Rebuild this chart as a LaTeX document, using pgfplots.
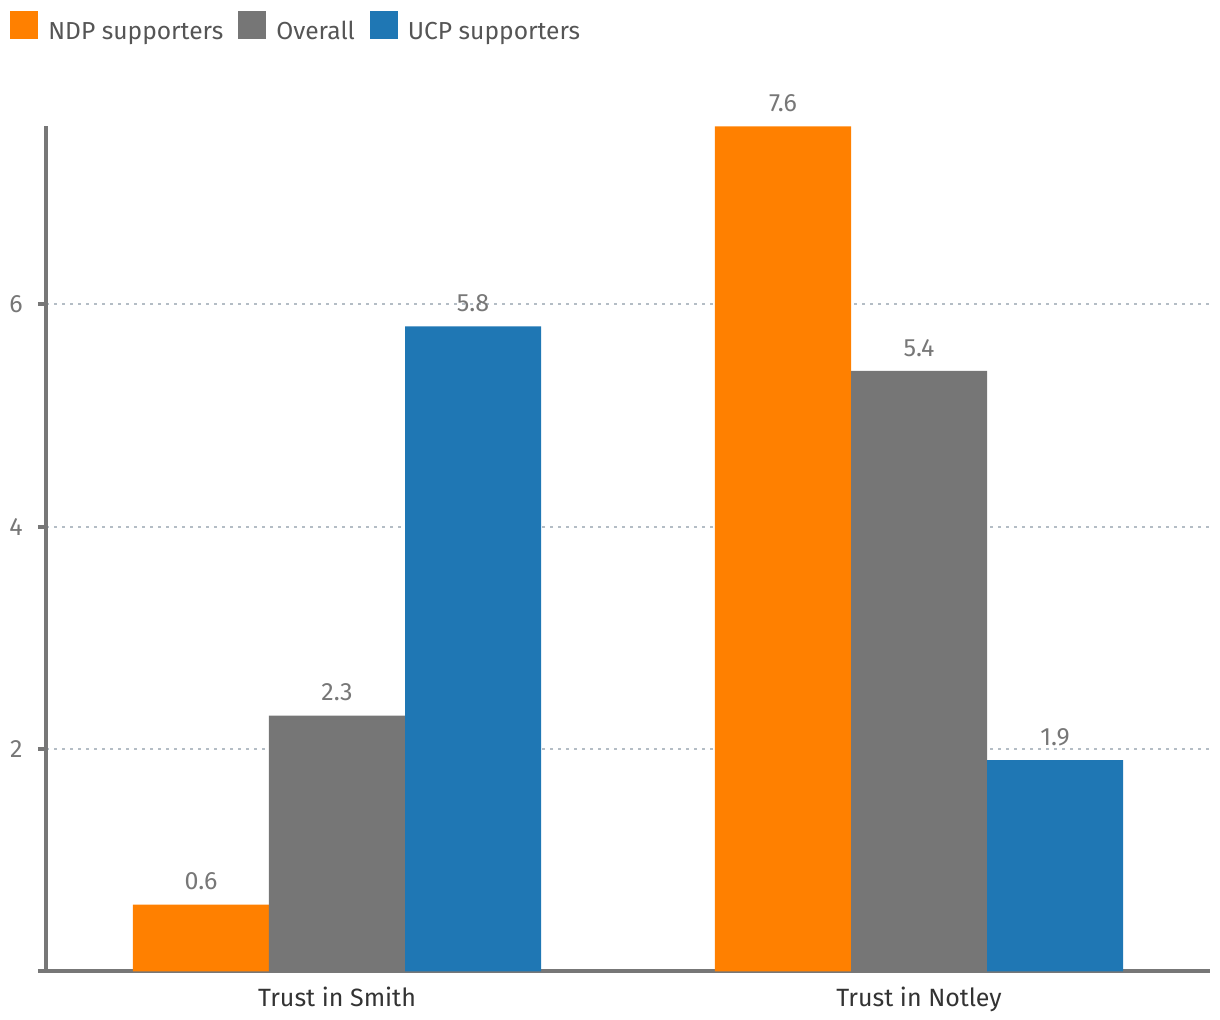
\documentclass[border=0pt]{standalone}
\usepackage{fontspec}
\setmainfont{Fira Sans}
\usepackage{pgfplots}
\pgfplotsset{compat=1.18}
\definecolor{ndp}{HTML}{FF8000}
\definecolor{overall}{HTML}{767676}
\definecolor{ucp}{HTML}{1F77B4}
\definecolor{spine}{HTML}{777777}
\definecolor{gridc}{HTML}{B4BDC5}
\definecolor{lbl}{HTML}{777777}
\definecolor{cat}{HTML}{333333}
\definecolor{leg}{HTML}{555555}
\begin{document}
\fontsize{12.5}{15}\selectfont
\begin{tikzpicture}[font=\fontsize{12.5}{15}\selectfont]
\begin{axis}[
  at={(23pt,24.35pt)}, anchor=south west,
  scale only axis, width=582pt, height=422.5pt,
  ybar=0pt, bar width=0.2337,
  xmin=-0.5, xmax=1.5, ymin=0, ymax=7.6,
  xtick={0,1}, xticklabels={Trust in Smith, Trust in Notley},
  ytick={0,2,4,6}, yticklabels={,2,4,6},
  axis x line*=bottom, axis y line*=left,
  axis line style={draw=spine, line width=2pt, -},
  tick align=outside, major tick length=4pt,
  xtick style={draw=none},
  ytick style={draw=spine, line width=2pt},
  ymajorgrids,
  major grid style={draw=gridc, line width=1pt, dash pattern=on 1.6pt off 2.4pt},
  /pgf/number format/assume math mode=true,
  yticklabel style={text=lbl, anchor=east, inner sep=0pt, xshift=-7.5pt},
  xticklabel style={text=cat, anchor=base, inner sep=0pt, yshift=-13.85pt},
  nodes near coords,
  every node near coord/.append style={text=lbl, inner sep=0pt, yshift=7pt},
  legend style={at={(axis description cs:-0.03093,1.1163)}, anchor=west,
    draw=none, fill=none, inner sep=0pt, text=leg,
    nodes={inner sep=0pt, text height=9pt, text depth=2.6pt, font=\fontsize{12.3}{15}\selectfont},
    /tikz/every odd column/.append style={column sep=5pt},
    /tikz/every even column/.append style={column sep=7.5pt}},
  legend columns=-1,
  every axis plot post/.append style={
    legend image code/.code={\draw[##1,/tikz/.cd,draw=none] (0pt,-2.7pt) rectangle (14pt,11.3pt);}},
]
\addplot[fill=ndp, draw=none] coordinates {(0,0.6) (1,7.6)};
\addplot[fill=overall, draw=none] coordinates {(0,2.3) (1,5.4)};
\addplot[fill=ucp, draw=none] coordinates {(0,5.8) (1,1.9)};
\legend{NDP supporters, Overall, UCP supporters}
\end{axis}
\pgfresetboundingbox
\useasboundingbox (0,0) rectangle (610pt,510pt);
\end{tikzpicture}
\end{document}
